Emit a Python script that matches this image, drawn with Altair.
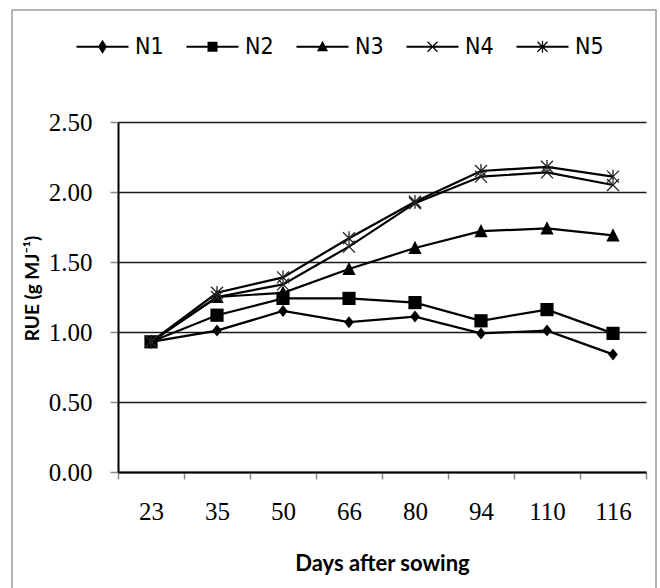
import altair as alt
import pandas as pd

days = ["23", "35", "50", "66", "80", "94", "110", "116"]
series = ["N1", "N2", "N3", "N4", "N5"]
n1 = [0.93, 1.01, 1.15, 1.07, 1.11, 0.99, 1.01, 0.84]
n2 = [0.93, 1.12, 1.24, 1.24, 1.21, 1.08, 1.16, 0.99]
n3 = [0.93, 1.25, 1.28, 1.45, 1.60, 1.72, 1.74, 1.69]
n4 = [0.93, 1.25, 1.34, 1.61, 1.92, 2.11, 2.14, 2.05]
n5 = [0.93, 1.28, 1.39, 1.67, 1.93, 2.15, 2.18, 2.11]
y_ticks = [0, 0.5, 1.0, 1.5, 2.0, 2.5]

rows = []
for name, vals in zip(series, [n1, n2, n3, n4, n5]):
    for d, v in zip(days, vals):
        rows.append({"day": d, "series": name, "rue": v})
df = pd.DataFrame(rows)

# marker shapes (unit paths, drawn at size 144 -> 6 px per unit)
marker_paths = [
    "M0,-1L0.8,0L0,1L-0.8,0Z",
    "M-1.1,-1.1H1.1V1.1H-1.1Z",
    "M0,-1.2L1.1,1H-1.1Z",
    "M-1,-1L1,1M-1,1L1,-1",
    "M-1,-1L1,1M-1,1L1,-1M0,-1.15V1.15",
]
# legend shapes as filled outlines: line through marker (size 100 -> 5 px per unit)
LINE = "M-5.2,-0.2H5.2V0.2H-5.2Z"
XBAR = "M-0.915,-1.085L1.085,0.915L0.915,1.085L-1.085,-0.915Z" \
       "M-0.915,1.085L-1.085,0.915L0.915,-1.085L1.085,-0.915Z"
legend_paths = [
    LINE + "M0,-1.4L0.9,0L0,1.4L-0.9,0Z",
    LINE + "M-1,-1H1V1H-1Z",
    LINE + "M0,-1.2L1.1,0.9H-1.1Z",
    LINE + XBAR,
    LINE + XBAR + "M-0.12,-1.2H0.12V1.2H-0.12Z",
]

serif = "Liberation Serif"
sans = "Lato"

x_enc = alt.X(
    "day:N",
    sort=days,
    scale=alt.Scale(type="band", paddingInner=0, paddingOuter=0),
    axis=alt.Axis(
        title="Days after sowing",
        labelAngle=0,
        tickBand="extent",
        domainColor="black",
        domainWidth=2,
        tickColor="#888888",
        tickWidth=1.5,
        tickSize=7,
        labelFont=serif,
        labelFontSize=25,
        labelColor="black",
        labelPadding=20,
        titleFont=sans,
        titleFontSize=22,
        titleFontWeight="bold",
        titleColor="black",
        titleY=98,
        titleBaseline="alphabetic",
        grid=False,
    ),
)
y_enc = alt.Y(
    "rue:Q",
    scale=alt.Scale(domain=[0, 2.5], nice=False),
    axis=alt.Axis(
        title="RUE (g MJ⁻¹)",
        values=y_ticks,
        format=".2f",
        grid=True,
        gridColor="#1a1a1a",
        gridWidth=1.5,
        domainColor="black",
        domainWidth=2,
        tickColor="#888888",
        tickWidth=1.5,
        tickSize=8,
        labelFont=serif,
        labelFontSize=25,
        labelColor="black",
        labelPadding=18,
        titleFont=sans,
        titleFontSize=19,
        titleFontWeight="bold",
        titleColor="black",
        titleAngle=270,
        titleAlign="center",
        titleBaseline="middle",
        titleX=-86,
        titleY=166,
    ),
)

base = alt.Chart(df)

lines = base.mark_line(color="black", strokeWidth=2.2).encode(
    x=x_enc, y=y_enc, detail="series:N"
)

filled_pts = (
    base.transform_filter(alt.FieldOneOfPredicate(field="series", oneOf=["N1", "N2", "N3"]))
    .mark_point(filled=True, color="black", size=144, opacity=1)
    .encode(
        x=x_enc,
        y=y_enc,
        shape=alt.Shape("series:N", scale=alt.Scale(domain=series, range=marker_paths), legend=None),
    )
)
open_pts = (
    base.transform_filter(alt.FieldOneOfPredicate(field="series", oneOf=["N4", "N5"]))
    .mark_point(filled=False, color="#222222", size=144, strokeWidth=1.3, opacity=1)
    .encode(
        x=x_enc,
        y=y_enc,
        shape=alt.Shape("series:N", scale=alt.Scale(domain=series, range=marker_paths), legend=None),
    )
)
legend_layer = (
    base.transform_filter("false")
    .mark_point(filled=True, color="black", opacity=1)
    .encode(
        x=x_enc,
        y=y_enc,
        shape=alt.Shape(
            "series:N",
            scale=alt.Scale(domain=series, range=legend_paths),
            legend=alt.Legend(
                title=None,
                orient="none",
                legendX=-27,
                legendY=-87,
                direction="horizontal",
                columns=5,
                padding=0,
                symbolSize=100,
                symbolFillColor="black",
                symbolOpacity=1,
                labelFont="DejaVu Sans Condensed, DejaVu Sans",
                labelFontSize=23,
                labelColor="black",
                labelOffset=21,
                columnPadding=19,
            ),
        ),
    )
)

frame = alt.Chart(pd.DataFrame({"a": [0]})).mark_rect(
    fill=None, stroke="#9a9a9a", strokeWidth=1.5
).encode(
    x=alt.value(-106), x2=alt.value(538), y=alt.value(-112), y2=alt.value(478)
)

chart = (
    alt.layer(frame, lines, filled_pts, open_pts, legend_layer)
    .resolve_scale(shape="independent")
    .resolve_legend(shape="independent")
    .properties(
        width=528,
        height=350,
        autosize=alt.AutoSizeParams(type="none"),
        padding={"left": 118, "top": 122, "right": 14, "bottom": 116},
        background="white",
    )
    .configure_view(strokeWidth=0)
)

chart.save("out.html", embed_options={"renderer": "svg", "actions": False})
